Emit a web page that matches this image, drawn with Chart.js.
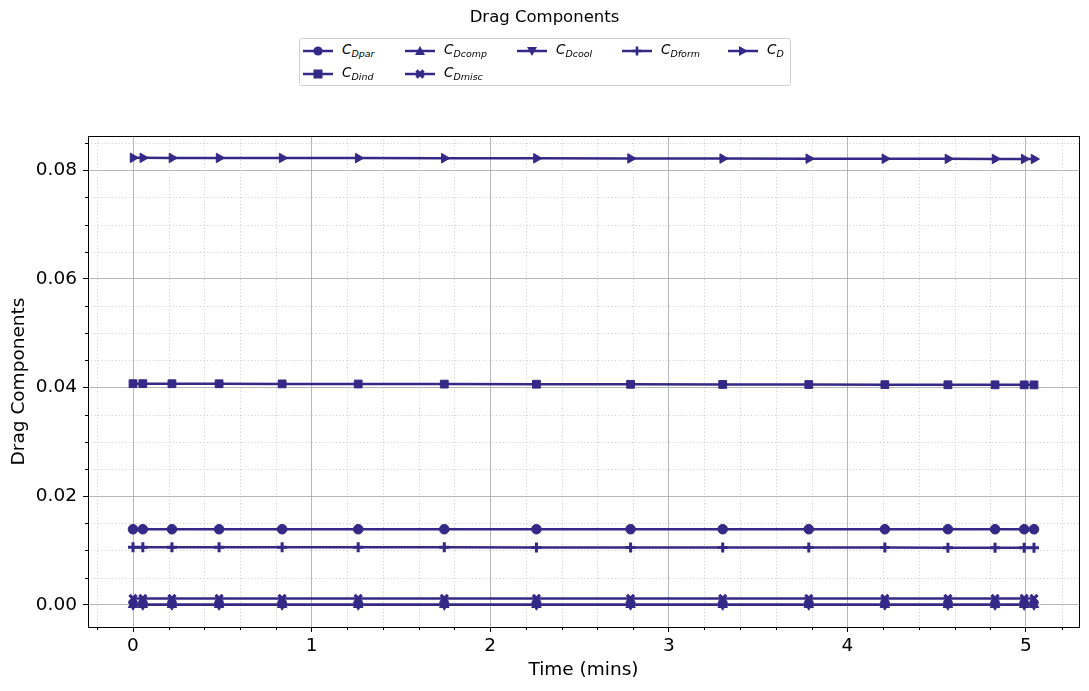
<!DOCTYPE html>
<html>
<head>
<meta charset="utf-8">
<script src="https://cdn.jsdelivr.net/npm/chart.js@4.4.1/dist/chart.umd.min.js"></script>
<style>
  html, body { margin: 0; padding: 0; background: #fff; }
  body { width: 1089px; height: 691px; position: relative; overflow: hidden; font-family: "DejaVu Sans", sans-serif; }
  #wrap { position: absolute; left: 0; top: 0; width: 1089px; height: 691px; }
  #title { position: absolute; left: 0; width: 1089px; top: 7px; text-align: center; font-size: 16.5px; color: #000; }
  #legend { position: absolute; left: 299px; top: 38px; width: 490px; height: 46px; border: 1px solid #d0d0d0; border-radius: 3px; background: #fff; }
  .item { position: absolute; height: 16px; display: flex; align-items: center; white-space: nowrap; }
  .item svg { display: block; }
  .lbl { margin-left: 9px; font-size: 13.5px; font-style: italic; line-height: 16px; color: #000; }
  .lbl sub { font-size: 9.5px; font-style: italic; vertical-align: -3px; }
</style>
</head>
<body>
<div id="wrap"><canvas id="c" width="1089" height="691"></canvas></div>
<div id="title">Drag Components</div>
<div id="legend"></div>
<script>
// ---- data ----
const timeMins = [0, 0.055, 0.218, 0.482, 0.835, 1.261, 1.743, 2.259, 2.786, 3.302, 3.784, 4.210, 4.563, 4.827, 4.990, 5.045];
const CDpar  = [0.01390, 0.01390, 0.01390, 0.01390, 0.01390, 0.01390, 0.01390, 0.01390, 0.01390, 0.01390, 0.01390, 0.01390, 0.01390, 0.01390, 0.01390, 0.01390];
const CDind  = [0.04070, 0.04070, 0.04069, 0.04068, 0.04066, 0.04064, 0.04062, 0.04060, 0.04058, 0.04056, 0.04054, 0.04052, 0.04050, 0.04049, 0.04048, 0.04048];
const CDcomp = [0.00000, 0.00000, 0.00000, 0.00000, 0.00000, 0.00000, 0.00000, 0.00000, 0.00000, 0.00000, 0.00000, 0.00000, 0.00000, 0.00000, 0.00000, 0.00000];
const CDmisc = [0.00115, 0.00115, 0.00115, 0.00115, 0.00115, 0.00115, 0.00115, 0.00115, 0.00115, 0.00115, 0.00115, 0.00115, 0.00115, 0.00115, 0.00115, 0.00115];
const CDcool = [0.00000, 0.00000, 0.00000, 0.00000, 0.00000, 0.00000, 0.00000, 0.00000, 0.00000, 0.00000, 0.00000, 0.00000, 0.00000, 0.00000, 0.00000, 0.00000];
const CDform = [0.01060, 0.01060, 0.01060, 0.01059, 0.01059, 0.01058, 0.01057, 0.01056, 0.01055, 0.01054, 0.01053, 0.01052, 0.01051, 0.01051, 0.01050, 0.01050];
const CD     = [0.08228, 0.08228, 0.08227, 0.08226, 0.08225, 0.08223, 0.08221, 0.08219, 0.08217, 0.08215, 0.08213, 0.08211, 0.08209, 0.08208, 0.08207, 0.08207];

const xTicks = [0, 1, 2, 3, 4, 5];
const yTicks = [0.00, 0.02, 0.04, 0.06, 0.08];
const xMinorTicks = [-0.2, 0.2, 0.4, 0.6, 0.8, 1.2, 1.4, 1.6, 1.8, 2.2, 2.4, 2.6, 2.8, 3.2, 3.4, 3.6, 3.8, 4.2, 4.4, 4.6, 4.8, 5.2];
const yMinorTicks = [0.005, 0.010, 0.015, 0.025, 0.030, 0.035, 0.045, 0.050, 0.055, 0.065, 0.070, 0.075, 0.085];

const seriesNames = ['Dpar', 'Dind', 'Dcomp', 'Dmisc', 'Dcool', 'Dform', 'D'];
const seriesValues = [CDpar, CDind, CDcomp, CDmisc, CDcool, CDform, CD];
// ---- styling ----
const COLOR = '#342986';
const markerStyles = [
  { pointStyle: 'circle', radius: 4.8, rotation: 0, bw: 1 },
  { pointStyle: 'rect', radius: 5.5, rotation: 0, bw: 1 },
  { pointStyle: 'triangle', radius: 5.5, rotation: 0, bw: 1 },
  { pointStyle: 'crossRot', radius: 5, rotation: 0, bw: 3.2 },
  { pointStyle: 'triangle', radius: 5.5, rotation: 180, bw: 1 },
  { pointStyle: 'cross', radius: 5, rotation: 0, bw: 3 },
  { pointStyle: 'triangle', radius: 5.5, rotation: 90, bw: 1 }
];

const datasets = seriesValues.map((vals, i) => ({
  label: 'C' + seriesNames[i],
  data: vals.map((v, j) => ({ x: timeMins[j], y: v })),
  borderColor: COLOR,
  backgroundColor: COLOR,
  borderWidth: 2.5,
  pointStyle: markerStyles[i].pointStyle,
  pointRadius: markerStyles[i].radius,
  pointRotation: markerStyles[i].rotation,
  pointBorderWidth: markerStyles[i].bw,
  pointBackgroundColor: COLOR,
  pointBorderColor: COLOR,
  tension: 0,
  fill: false
}));

const FONT = { family: '"DejaVu Sans", sans-serif', size: 18.5 };

const minorPlugin = {
  id: 'minorGrid',
  beforeDatasetsDraw(chart) {
    const { ctx, chartArea: a, scales: { x, y } } = chart;
    ctx.save();
    ctx.lineWidth = 0.8;
    ctx.strokeStyle = '#bcbcbc';
    ctx.setLineDash([1, 2.4]);
    xMinorTicks.forEach(v => {
      const px = Math.round(x.getPixelForValue(v)) + 0.5;
      if (px < a.left || px > a.right) return;
      ctx.beginPath(); ctx.moveTo(px, a.top); ctx.lineTo(px, a.bottom); ctx.stroke();
    });
    yMinorTicks.forEach(v => {
      const py = Math.round(y.getPixelForValue(v)) + 0.5;
      if (py < a.top || py > a.bottom) return;
      ctx.beginPath(); ctx.moveTo(a.left, py); ctx.lineTo(a.right, py); ctx.stroke();
    });
    ctx.restore();
  },
  afterDraw(chart) {
    const { ctx, chartArea: a, scales: { x, y } } = chart;
    ctx.save();
    ctx.strokeStyle = '#000';
    ctx.lineWidth = 1;
    ctx.setLineDash([]);
    xMinorTicks.forEach(v => {
      const px = Math.round(x.getPixelForValue(v)) + 0.5;
      if (px < a.left || px > a.right) return;
      ctx.beginPath(); ctx.moveTo(px, a.bottom); ctx.lineTo(px, a.bottom + 3); ctx.stroke();
    });
    yMinorTicks.forEach(v => {
      const py = Math.round(y.getPixelForValue(v)) + 0.5;
      if (py < a.top || py > a.bottom) return;
      ctx.beginPath(); ctx.moveTo(a.left, py); ctx.lineTo(a.left - 3, py); ctx.stroke();
    });
    ctx.strokeRect(Math.round(a.left) + 0.5, Math.round(a.top) + 0.5, Math.round(a.right - a.left), Math.round(a.bottom - a.top));
    ctx.restore();
  }
};

new Chart(document.getElementById('c'), {
  type: 'line',
  data: { datasets },
  options: {
    responsive: false,
    animation: false,
    layout: { padding: { top: 136, right: 10, left: 0, bottom: 0 } },
    plugins: { legend: { display: false }, title: { display: false }, tooltip: { enabled: false } },
    scales: {
      x: {
        type: 'linear',
        min: -0.252,
        max: 5.297,
        afterBuildTicks: (s) => { s.ticks = xTicks.map(v => ({ value: v })); },
        afterFit: (s) => { s.height = 64; },
        ticks: { color: '#000', font: FONT, padding: 3, maxRotation: 0, callback: (v) => String(v) },
        grid: { color: '#a4a4a4', lineWidth: 0.8, tickColor: '#000', tickLength: 5, tickWidth: 1 },
        border: { display: true, color: '#000', width: 1 },
        title: { display: true, text: 'Time (mins)', color: '#000', font: FONT, padding: { top: 0, bottom: 10 } }
      },
      y: {
        type: 'linear',
        min: -0.0041,
        max: 0.0863,
        afterBuildTicks: (s) => { s.ticks = yTicks.map(v => ({ value: v })); },
        afterFit: (s) => { s.width = 88; },
        ticks: { color: '#000', font: FONT, padding: 6, callback: (v) => Number(v).toFixed(2) },
        grid: { color: '#a4a4a4', lineWidth: 0.8, tickColor: '#000', tickLength: 5, tickWidth: 1 },
        border: { display: true, color: '#000', width: 1 },
        title: { display: true, text: 'Drag Components', color: '#000', font: FONT, padding: { top: 8, bottom: 0 } }
      }
    }
  },
  plugins: [minorPlugin]
});

// ---- HTML legend (matplotlib column-major order, 5 columns) ----
const legendPos = [
  { col: 0, row: 0 }, { col: 0, row: 1 },
  { col: 1, row: 0 }, { col: 1, row: 1 },
  { col: 2, row: 0 }, { col: 3, row: 0 }, { col: 4, row: 0 }
];
const colX = [3, 105, 217, 322, 428];
const rowY = [4, 27];
function markerSvg(i) {
  const c = COLOR, cx = 15, cy = 8;
  let m = '';
  switch (i) {
    case 0: m = `<circle cx="${cx}" cy="${cy}" r="4.6" fill="${c}"/>`; break;
    case 1: m = `<rect x="${cx-4.5}" y="${cy-4.5}" width="9" height="9" fill="${c}"/>`; break;
    case 2: m = `<polygon points="${cx},${cy-5} ${cx-5},${cy+4} ${cx+5},${cy+4}" fill="${c}"/>`; break;
    case 3: m = `<path d="M${cx-3.5} ${cy-3.5} L${cx+3.5} ${cy+3.5} M${cx+3.5} ${cy-3.5} L${cx-3.5} ${cy+3.5}" stroke="${c}" stroke-width="3.2"/>`; break;
    case 4: m = `<polygon points="${cx},${cy+5} ${cx-5},${cy-4} ${cx+5},${cy-4}" fill="${c}"/>`; break;
    case 5: m = `<path d="M${cx-4.5} ${cy} L${cx+4.5} ${cy} M${cx} ${cy-4.5} L${cx} ${cy+4.5}" stroke="${c}" stroke-width="2.6"/>`; break;
    case 6: m = `<polygon points="${cx+5},${cy} ${cx-4},${cy-5} ${cx-4},${cy+5}" fill="${c}"/>`; break;
  }
  return `<svg width="30" height="16"><line x1="0" y1="${cy}" x2="30" y2="${cy}" stroke="${c}" stroke-width="2.5"/>${m}</svg>`;
}
const leg = document.getElementById('legend');
seriesNames.forEach((name, i) => {
  const p = legendPos[i];
  const d = document.createElement('div');
  d.className = 'item';
  d.style.left = colX[p.col] + 'px';
  d.style.top = rowY[p.row] + 'px';
  d.innerHTML = markerSvg(i) + `<span class="lbl">C<sub>${name}</sub></span>`;
  leg.appendChild(d);
});
</script>
</body>
</html>
